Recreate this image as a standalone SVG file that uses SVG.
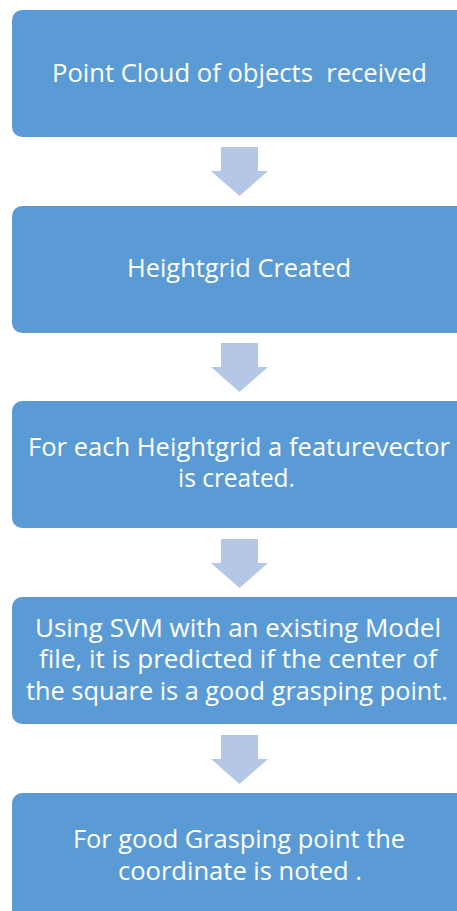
<svg xmlns="http://www.w3.org/2000/svg" width="457" height="911" viewBox="0 0 457 911">
<style>
.box{fill:#5B9BD5;}
.arr{fill:#B4C7E7;}
.t{font-family:"Open Sans","Liberation Sans",sans-serif;font-size:25px;fill:#FFFFFF;}
</style>
<defs>
<path id="dn" class="arr" d="M221,147 H258 V171 H268 L239.5,196 L211,171 H221 Z"/>
</defs>
<rect width="457" height="911" fill="#FFFFFF"/>
<g id="connectors">
<use href="#dn"/>
<use href="#dn" y="196"/>
<use href="#dn" y="392"/>
<use href="#dn" y="588"/>
</g>
<g id="n1">
<rect class="box" x="12" y="10" width="456" height="127" rx="10"/>
<text class="t" x="52" y="82" textLength="375" lengthAdjust="spacingAndGlyphs" xml:space="preserve">Point Cloud of objects  received</text>
</g>
<g id="n2">
<rect class="box" x="12" y="206" width="456" height="127" rx="10"/>
<text class="t" x="127" y="277" textLength="224" lengthAdjust="spacingAndGlyphs">Heightgrid Created</text>
</g>
<g id="n3">
<rect class="box" x="12" y="401" width="456" height="127" rx="10"/>
<text class="t" x="28" y="456" textLength="422" lengthAdjust="spacingAndGlyphs">For each Heightgrid a featurevector</text>
<text class="t" x="178" y="487" textLength="117" lengthAdjust="spacingAndGlyphs">is created.</text>
</g>
<g id="n4">
<rect class="box" x="12" y="597" width="456" height="127" rx="10"/>
<text class="t" x="35" y="637" textLength="406" lengthAdjust="spacingAndGlyphs">Using SVM with an existing Model</text>
<text class="t" x="39" y="668" textLength="398" lengthAdjust="spacingAndGlyphs">file, it is predicted if the center of</text>
<text class="t" x="26" y="700" textLength="422" lengthAdjust="spacingAndGlyphs">the square is a good grasping point.</text>
</g>
<g id="n5">
<rect class="box" x="12" y="793" width="456" height="127" rx="10"/>
<text class="t" x="73" y="848" textLength="332" lengthAdjust="spacingAndGlyphs">For good Grasping point the</text>
<text class="t" x="118" y="880" textLength="244" lengthAdjust="spacingAndGlyphs">coordinate is noted .</text>
</g>
</svg>
